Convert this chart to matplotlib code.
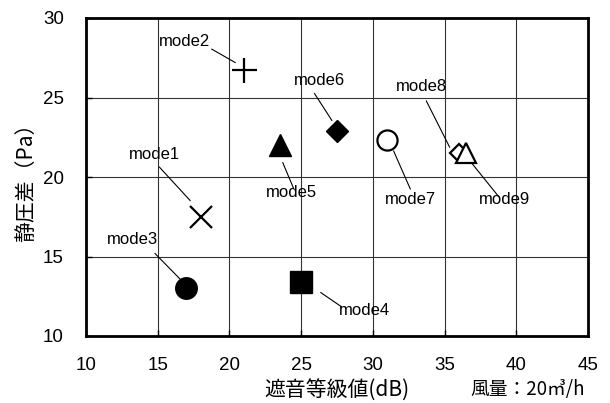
import matplotlib
matplotlib.use("Agg")
import matplotlib.pyplot as plt

# data
modes = ['mode1', 'mode2', 'mode3', 'mode4', 'mode5', 'mode6', 'mode7', 'mode8', 'mode9']
sound_db = [18.0, 21.0, 17.0, 25.0, 23.5, 27.5, 31.0, 36.0, 36.5]
pressure_pa = [17.5, 26.7, 13.0, 13.4, 22.0, 22.9, 22.3, 21.5, 21.5]

# marker styles: (marker, size, face, edge width)
styles = [
    ('x', 16, 'black', 1.6),
    ('+', 18, 'black', 1.6),
    ('o', 15.5, 'black', 1.0),
    ('s', 15.5, 'black', 1.0),
    ('^', 15.5, 'black', 1.0),
    ('D', 11, 'black', 1.0),
    ('o', 14.5, 'white', 1.6),
    ('D', 9.5, 'white', 1.6),
    ('^', 14, 'white', 1.6),
]

# label centre and leader line (x0, y0, x1, y1)
label_pos = [(14.8, 21.4), (16.9, 28.55), (13.25, 16.05), (29.45, 11.6), (24.35, 19.05),
             (26.3, 26.1), (32.6, 18.6), (33.4, 25.7), (39.2, 18.6)]
leaders = [(15.12, 20.62, 17.26, 18.52), (18.77, 28.04, 20.4, 27.2), (14.81, 15.19, 16.56, 13.58),
           (26.37, 12.73, 27.83, 11.83), (23.72, 20.9, 24.47, 19.29), (25.93, 25.25, 27.14, 23.56),
           (31.45, 21.63, 32.61, 19.25), (33.73, 24.78, 35.35, 21.88), (36.84, 20.93, 38.77, 18.77)]

xticks = [10, 15, 20, 25, 30, 35, 40, 45]
yticks = [10, 15, 20, 25, 30]

plt.rcParams['font.family'] = ['Liberation Sans', 'Noto Sans CJK JP', 'DejaVu Sans']
cjk = ['Noto Sans CJK JP', 'DejaVu Sans']

fig = plt.figure(figsize=(6.1, 4.03), dpi=100)
ax = fig.add_axes([86 / 610, 1 - 336 / 403, 502 / 610, 318 / 403])

ax.set_xlim(10, 45)
ax.set_ylim(10, 30)
ax.set_xticks(xticks)
ax.set_yticks(yticks)
ax.tick_params(labelsize=13.5, direction='in', length=4, width=1)
ax.tick_params(axis='y', pad=16)
ax.tick_params(axis='x', pad=15)
ax.grid(True, color='#333333', linewidth=0.8)
ax.set_axisbelow(True)
for s in ax.spines.values():
    s.set_linewidth(2)

for (x0, y0, x1, y1) in leaders:
    ax.plot([x0, x1], [y0, y1], color='black', linewidth=0.8, zorder=3)

for i in range(len(modes)):
    m, ms, fc, mew = styles[i]
    ax.plot(sound_db[i], pressure_pa[i], marker=m, markersize=ms, markerfacecolor=fc,
            markeredgecolor='black', markeredgewidth=mew, linestyle='none', zorder=4 + i * 0.1)
    ax.text(label_pos[i][0], label_pos[i][1], modes[i], fontsize=12, ha='center', va='center', zorder=5)

ax.set_xlabel('遮音等級値(dB)', family=cjk, fontsize=15, labelpad=4)
ax.set_ylabel('静圧差（Pa）', family=cjk, fontsize=15, labelpad=4)
fig.text(585 / 610, 1 - 389 / 403, '風量：20㎥/h', family=cjk, fontsize=13.5, ha='right', va='center')

fig.savefig('out.png', dpi=100)
